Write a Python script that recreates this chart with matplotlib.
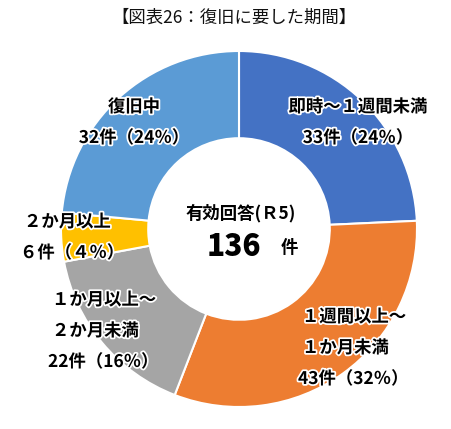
import matplotlib
matplotlib.use("Agg")
import matplotlib.pyplot as plt
import matplotlib.patheffects as pe

plt.rcParams['font.family'] = ['Noto Sans CJK JP', 'DejaVu Sans']

categories = ["即時〜１週間未満", "１週間以上〜\n１か月未満", "１か月以上〜\n２か月未満", "２か月以上", "復旧中"]
values = [33, 43, 22, 6, 32]
count_labels = ["33件（24％）", "43件（32％）", "22件（16％）", "６件（４％）", "32件（24％）"]
colors = ["#4472C4", "#ED7D31", "#A5A5A5", "#FFC000", "#5B9BD5"]
total_label = "136"
title = "【図表26：復旧に要した期間】"

W, H = 452, 429
fig = plt.figure(figsize=(W / 100, H / 100), dpi=100)
fig.patch.set_facecolor("white")

cx, cy, R = 239, 229, 178
ax = fig.add_axes([(cx - R) / W, (H - cy - R) / H, 2 * R / W, 2 * R / H])
ax.pie(values, colors=colors, startangle=90, counterclock=False, radius=1,
       wedgeprops=dict(width=0.49, edgecolor="white", linewidth=1.5))
ax.set_xlim(-1, 1)
ax.set_ylim(-1, 1)
ax.axis("off")


def px(x, y):
    return x / W, 1 - y / H


halo = [pe.withStroke(linewidth=2.5, foreground="white")]
fs = 12.5

# label positions (pixel), alignment
label_pos = [
    (358, 107, "center"),
    (302, 317, "left"),
    (52, 300, "left"),
    (24, 222, "left"),
    (134, 107, "center"),
]
for cat, cnt, (x, y, ha) in zip(categories, count_labels, label_pos):
    lines = cat.split("\n") + [cnt]
    for i, line in enumerate(lines):
        xx = x
        if ha == "left" and line == cnt:
            xx = x - 4
        fig.text(*px(xx, y + i * 31), line, ha=ha, va="center", fontsize=fs,
                 fontweight="bold", color="black", path_effects=halo)

fig.text(*px(241, 213), "有効回答(Ｒ5)", ha="center", va="center", fontsize=12.5,
         fontweight="bold", color="black")
fig.text(*px(234, 247), total_label, ha="center", va="center", fontsize=21.5,
         fontweight="heavy", color="black")
fig.text(*px(289, 248), "件", ha="center", va="center", fontsize=12.5,
         fontweight="bold", color="black")

fig.text(*px(234, 18), title, ha="center", va="center", fontsize=12.5, color="#111111")

fig.savefig("out.png", dpi=100, facecolor="white")
